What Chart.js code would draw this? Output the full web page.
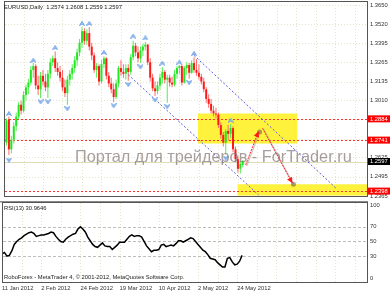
<!DOCTYPE html>
<html><head><meta charset="utf-8">
<script src="https://cdn.jsdelivr.net/npm/chart.js@4.4.1/dist/chart.umd.min.js"></script>
<style>
html,body{margin:0;padding:0;background:#fff;overflow:hidden}
#wrap{position:relative;width:390px;height:293px;background:#fff}
canvas{position:absolute;left:0}
</style></head><body>
<div id="wrap">
<canvas id="main" width="390" height="201" style="top:0;width:390px;height:201px"></canvas>
<canvas id="rsi" width="390" height="92" style="top:201px;width:390px;height:92px"></canvas>
</div>
<script>
// ---- data ----
const opens = [1.2809,1.2724,1.2881,1.2679,1.2744,1.2835,1.2900,1.2979,1.2939,1.3044,
1.3096,1.3128,1.3213,1.3239,1.3109,1.3083,1.3174,1.3135,1.3096,1.3187,
1.3265,1.3291,1.3226,1.3200,1.3161,1.3096,1.3057,1.3148,1.3187,1.3226,
1.3278,1.3331,1.3396,1.3474,1.3409,1.3461,1.3370,1.3311,1.3213,1.3239,
1.3135,1.3252,1.3291,1.3174,1.3122,1.3083,1.3031,1.3122,1.3226,1.3200,
1.3187,1.3226,1.3200,1.3298,1.3376,1.3331,1.3291,1.3344,1.3370,1.3383,
1.3265,1.3161,1.3089,1.3070,1.3109,1.3161,1.3200,1.3148,1.3161,1.3128,
1.3115,1.3187,1.3226,1.3239,1.3128,1.3226,1.3246,1.3194,1.3259,1.3213,
1.3194,1.3167,1.3135,1.3083,1.3018,1.2985,1.2939,1.2920,1.2913,1.2842,
1.2776,1.2724,1.2803,1.2783,1.2822,1.2679,1.2613,1.2548,1.2574];
const highs = [1.2835,1.2887,1.2900,1.2770,1.2861,1.2926,1.2998,1.3005,1.3070,1.3115,
1.3154,1.3239,1.3259,1.3252,1.3174,1.3200,1.3213,1.3187,1.3213,1.3291,
1.3311,1.3337,1.3265,1.3239,1.3213,1.3148,1.3174,1.3213,1.3252,1.3305,
1.3357,1.3422,1.3500,1.3494,1.3487,1.3500,1.3396,1.3331,1.3259,1.3252,
1.3278,1.3305,1.3298,1.3200,1.3161,1.3122,1.3148,1.3239,1.3278,1.3252,
1.3252,1.3252,1.3318,1.3409,1.3396,1.3370,1.3370,1.3389,1.3402,1.3389,
1.3291,1.3187,1.3135,1.3135,1.3187,1.3233,1.3213,1.3181,1.3181,1.3167,
1.3213,1.3239,1.3246,1.3252,1.3239,1.3265,1.3259,1.3278,1.3298,1.3285,
1.3252,1.3187,1.3161,1.3096,1.3050,1.3018,1.2972,1.2959,1.2926,1.2861,
1.2796,1.2816,1.2842,1.2848,1.2835,1.2698,1.2633,1.2600,1.2608];
const lows = [1.2692,1.2705,1.2640,1.2653,1.2718,1.2803,1.2881,1.2913,1.2926,1.3005,
1.3050,1.3109,1.3161,1.3083,1.3044,1.3024,1.3109,1.3070,1.3024,1.3154,
1.3239,1.3200,1.3174,1.3135,1.3070,1.3031,1.2979,1.3109,1.3148,1.3194,
1.3239,1.3305,1.3363,1.3383,1.3383,1.3344,1.3278,1.3194,1.3161,1.3109,
1.3122,1.3226,1.3148,1.3096,1.3057,1.2998,1.3018,1.3096,1.3174,1.3161,
1.3148,1.3141,1.3181,1.3278,1.3305,1.3265,1.3259,1.3305,1.3344,1.3246,
1.3135,1.3070,1.3037,1.3050,1.3083,1.3122,1.3122,1.2992,1.3102,1.3096,
1.3102,1.3154,1.3187,1.3109,1.3122,1.3181,1.3154,1.3187,1.3194,1.3174,
1.3148,1.3115,1.3063,1.2992,1.2959,1.2920,1.2900,1.2887,1.2822,1.2750,
1.2698,1.2646,1.2737,1.2757,1.2659,1.2594,1.2522,1.2516,1.2559];
const closes = [1.2724,1.2874,1.2679,1.2744,1.2835,1.2900,1.2979,1.2939,1.3044,1.3096,
1.3128,1.3213,1.3239,1.3109,1.3083,1.3174,1.3135,1.3096,1.3187,1.3265,
1.3291,1.3226,1.3200,1.3161,1.3096,1.3057,1.3148,1.3187,1.3226,1.3278,
1.3331,1.3396,1.3474,1.3409,1.3461,1.3370,1.3311,1.3213,1.3239,1.3135,
1.3252,1.3291,1.3174,1.3122,1.3083,1.3031,1.3122,1.3226,1.3200,1.3187,
1.3226,1.3200,1.3298,1.3376,1.3331,1.3291,1.3344,1.3370,1.3383,1.3265,
1.3161,1.3089,1.3070,1.3109,1.3161,1.3200,1.3148,1.3161,1.3128,1.3115,
1.3187,1.3226,1.3239,1.3128,1.3226,1.3246,1.3194,1.3259,1.3213,1.3194,
1.3167,1.3135,1.3083,1.3018,1.2985,1.2939,1.2920,1.2913,1.2842,1.2776,
1.2724,1.2803,1.2783,1.2822,1.2679,1.2613,1.2548,1.2581,1.2597];
const rsiValues = [33,35,30,31,37,46,50,53,55,58,60,62,63,61,57,58,59,59,60,61,
63,62,57,53,50,49,53,56,58,60,61,67,70,67,63,56,51,46,43,42,
45,48,44,43,43,39,42,45,49,49,49,53,57,59,57,58,58,56,50,44,
40,36,38,38,39,45,46,43,44,45,44,47,51,51,49,51,53,55,54,50,
46,42,38,36,32,27,26,25,21,18,15,15,27,28,22,18,19,23,30.96];
const priceTicks = [1.3650,1.3520,1.3395,1.3265,1.3135,1.3010,1.2880,1.2750,1.2625,1.2495,1.2365];
const hiddenPriceTicks = [1.2880,1.2750];
const rsiTicks = [0,30,50,70,100];
const rsiLevels = [30,50,70];
const dateTicks = [0,16,32,48,64,80,96];
const dateLabels = ['11 Jan 2012','2 Feb 2012','24 Feb 2012','19 Mar 2012','10 Apr 2012','2 May 2012','24 May 2012'];
const fractalUpX = [2,12,21,32,35,41,53,58,65,72,78,93];
const fractalUpY = [1.2920,1.3278,1.3363,1.3526,1.3526,1.3331,1.3441,1.3428,1.3259,1.3265,1.3324,1.2874];
const fractalDownX = [2,15,18,26,45,51,56,62,67,76,91];
const fractalDownY = [1.2607,1.2998,1.2998,1.2952,1.2972,1.3115,1.3233,1.3011,1.2966,1.3128,1.2620];
const upperChannel = [{x:78,y:1.3311},{x:136.7,y:1.2411}];
const lowerChannel = [{x:51,y:1.3181},{x:104.5,y:1.2372}];
const levelLines = [1.2884,1.2741,1.2398];
const bidPrice = 1.2597;
const zones = [{x0:79.6,x1:120.4,top:1.2920,bottom:1.2718},{x0:95.9,x1:149,top:1.2444,bottom:1.2368}];
const arrows = [{x0:99.2,y0:1.2574,x1:104.5,y1:1.2802},{x0:106.1,y0:1.2822,x1:118.4,y1:1.2450}];
const headerText = 'EURUSD,Daily  1.2574 1.2608 1.2559 1.2597';
const rsiText = 'RSI(13) 30.9646';
const copyrightText = 'RoboForex - MetaTrader 4, \u00A9 2001-2012, MetaQuotes Software Corp.';
const watermarkText = 'Портал для трейдеров - ForTrader.ru';

// ---- styling ----
const FONT = "'Liberation Sans', Arial, sans-serif";
const FS = 5.8;
Chart.defaults.font.family = FONT;
Chart.defaults.font.size = FS;
Chart.defaults.color = '#333';
const X_MIN = 0.4, X_MAX = 149, GRID_STEP = 8;
const BULL = '#22e622', BEAR = '#ff1a1a';
const WICK_BULL = '#55ee55', WICK_BEAR = '#ff6a6a';
const candleColor = (c) => closes[c.dataIndex] >= opens[c.dataIndex] ? BULL : BEAR;
const wickColor = (c) => closes[c.dataIndex] >= opens[c.dataIndex] ? WICK_BULL : WICK_BEAR;

function fractalImage(up) {
  const c = document.createElement('canvas'); c.width = 6; c.height = 5;
  const g = c.getContext('2d');
  g.beginPath();
  if (up) { g.moveTo(0.5,4.5); g.lineTo(3,0.5); g.lineTo(5.5,4.5); g.lineTo(3,3); }
  else { g.moveTo(0.5,0.5); g.lineTo(3,4.5); g.lineTo(5.5,0.5); g.lineTo(3,2); }
  g.closePath();
  g.fillStyle = '#b4d4fa'; g.fill();
  g.strokeStyle = '#6a9fe6'; g.lineWidth = 1; g.stroke();
  return c;
}
function hline(ctx, x0, x1, y) { ctx.beginPath(); ctx.moveTo(x0, y); ctx.lineTo(x1, y); ctx.stroke(); }
function vline(ctx, x, y0, y1) { ctx.beginPath(); ctx.moveTo(x, y0); ctx.lineTo(x, y1); ctx.stroke(); }

const mainDeco = {
  id: 'mainDeco',
  beforeDatasetsDraw(chart) {
    const {ctx, chartArea: a, scales: {x, y}} = chart;
    ctx.save();
    ctx.beginPath(); ctx.rect(a.left, a.top, a.right - a.left, a.bottom - a.top); ctx.clip();
    ctx.strokeStyle = '#e4e4c8'; ctx.lineWidth = 1; ctx.setLineDash([1, 2]);
    for (let b = 0; b <= X_MAX; b += GRID_STEP) vline(ctx, Math.round(x.getPixelForValue(b)) + 0.5, a.top, a.bottom);
    priceTicks.forEach(v => hline(ctx, a.left, a.right, Math.round(y.getPixelForValue(v)) + 0.5));
    ctx.setLineDash([]);
    ctx.fillStyle = '#fff23c';
    zones.forEach(z => {
      const x0 = x.getPixelForValue(z.x0), x1 = x.getPixelForValue(z.x1);
      const y0 = y.getPixelForValue(z.top), y1 = y.getPixelForValue(z.bottom);
      ctx.fillRect(x0, y0, x1 - x0, y1 - y0);
    });
    ctx.strokeStyle = '#deddb8';
    hline(ctx, a.left, a.right, Math.round(y.getPixelForValue(bidPrice)) + 0.5);
    ctx.strokeStyle = '#ff3030'; ctx.setLineDash([2, 2]);
    levelLines.forEach(v => hline(ctx, a.left, a.right, Math.round(y.getPixelForValue(v)) + 0.5));
    ctx.restore();
  },
  afterDatasetsDraw(chart) {
    const {ctx, chartArea: a, scales: {x, y}} = chart;
    ctx.save();
    ctx.beginPath(); ctx.rect(a.left, a.top, a.right - a.left, a.bottom - a.top); ctx.clip();
    arrows.forEach(r => {
      const x0 = x.getPixelForValue(r.x0), y0 = y.getPixelForValue(r.y0);
      const x1 = x.getPixelForValue(r.x1), y1 = y.getPixelForValue(r.y1);
      ctx.setLineDash([]);
      ctx.strokeStyle = 'rgba(150,140,130,0.45)'; ctx.lineWidth = 1.5;
      ctx.beginPath(); ctx.moveTo(x0 + 1, y0 + 1); ctx.lineTo(x1 + 1, y1 + 1); ctx.stroke();
      ctx.strokeStyle = '#ff2a2a'; ctx.lineWidth = 1; ctx.setLineDash([2, 1]);
      ctx.beginPath(); ctx.moveTo(x0, y0); ctx.lineTo(x1, y1); ctx.stroke();
      ctx.setLineDash([]);
      const ang = Math.atan2(y1 - y0, x1 - x0), L = 6, W = 2.8;
      const cs = Math.cos(ang), sn = Math.sin(ang);
      ctx.fillStyle = 'rgba(90,70,60,0.5)';
      ctx.beginPath(); ctx.arc(x1 + 1, y1 + 1, 2.5, 0, Math.PI * 2); ctx.fill();
      ctx.fillStyle = '#ff1a1a';
      ctx.beginPath(); ctx.moveTo(x1, y1);
      ctx.lineTo(x1 - L * cs + W * sn, y1 - L * sn - W * cs);
      ctx.lineTo(x1 - L * cs - W * sn, y1 - L * sn + W * cs);
      ctx.closePath(); ctx.fill();
    });
    // watermark
    ctx.font = '16px ' + FONT;
    const w = ctx.measureText(watermarkText).width;
    const size = 16 * 277 / w;
    ctx.font = size.toFixed(2) + 'px ' + FONT;
    ctx.fillStyle = 'rgba(125,112,112,0.68)';
    ctx.textBaseline = 'alphabetic'; ctx.textAlign = 'left';
    ctx.fillText(watermarkText, 75, 162);
    ctx.restore();
  },
  afterDraw(chart) {
    const {ctx, chartArea: a, scales: {y}} = chart;
    ctx.save();
    ctx.strokeStyle = '#555'; ctx.lineWidth = 1;
    ctx.strokeRect(a.left - 0.5, 1.5, a.right - a.left + 1, a.bottom - 1);
    ctx.font = FS + 'px ' + FONT; ctx.textBaseline = 'middle'; ctx.textAlign = 'left';
    ctx.fillStyle = '#222';
    ctx.fillText(headerText, 4, 7);
    const boxes = [{v: levelLines[0], bg: '#ff0000'}, {v: levelLines[1], bg: '#ff0000'}, {v: bidPrice, bg: '#000000'}, {v: levelLines[2], bg: '#ff0000'}];
    boxes.forEach(b => {
      const py = y.getPixelForValue(b.v);
      ctx.fillStyle = b.bg; ctx.fillRect(a.right + 1, py - 3.5, 390 - a.right - 1, 7);
      ctx.fillStyle = '#fff'; ctx.fillText(b.v.toFixed(4), a.right + 3, py + 0.3);
    });
    ctx.restore();
  }
};

new Chart(document.getElementById('main'), {
  type: 'bar',
  data: {
    datasets: [
      {type: 'line', data: fractalUpX.map((v, k) => ({x: v, y: fractalUpY[k]})), showLine: false,
       pointStyle: fractalImage(true), pointRadius: 3, order: 1},
      {type: 'line', data: fractalDownX.map((v, k) => ({x: v, y: fractalDownY[k]})), showLine: false,
       pointStyle: fractalImage(false), pointRadius: 3, order: 1},
      {type: 'line', data: upperChannel, borderColor: '#5a5ae6', borderWidth: 1, borderDash: [2, 2], pointRadius: 0, order: 2},
      {type: 'line', data: lowerChannel, borderColor: '#5a5ae6', borderWidth: 1, borderDash: [2, 2], pointRadius: 0, order: 2},
      {data: opens.map((o, i) => ({x: i, y: [opens[i], closes[i]]})), backgroundColor: candleColor,
       barThickness: 2, minBarLength: 1, grouped: false, borderWidth: 0, inflateAmount: 0, order: 3},
      {data: opens.map((o, i) => ({x: i, y: [lows[i], highs[i]]})), backgroundColor: wickColor,
       barThickness: 1, grouped: false, borderWidth: 0, inflateAmount: 0, order: 4}
    ]
  },
  options: {
    responsive: false, animation: false, devicePixelRatio: 1,
    layout: {padding: {left: 3, top: 3, right: 0, bottom: 1}},
    plugins: {legend: {display: false}, tooltip: {enabled: false}},
    scales: {
      x: {type: 'linear', min: X_MIN, max: X_MAX, offset: false, display: false},
      y: {type: 'linear', position: 'right', min: 1.2365, max: 1.3650,
          grid: {display: false, drawTicks: false}, border: {display: false},
          afterFit(s) { s.width = 23; s.paddingTop = 0; s.paddingBottom = 0; },
          afterBuildTicks(s) { s.ticks = priceTicks.map(v => ({value: v})); },
          ticks: {padding: 3, color: '#333', font: {size: FS},
                  callback: (v) => hiddenPriceTicks.some(h => Math.abs(h - v) < 1e-6) ? '' : Number(v).toFixed(4)}}
    }
  },
  plugins: [mainDeco]
});

const rsiDeco = {
  id: 'rsiDeco',
  beforeDatasetsDraw(chart) {
    const {ctx, chartArea: a, scales: {x, y}} = chart;
    ctx.save();
    ctx.beginPath(); ctx.rect(a.left, a.top, a.right - a.left, a.bottom - a.top); ctx.clip();
    ctx.strokeStyle = '#e4e4c8'; ctx.lineWidth = 1; ctx.setLineDash([1, 2]);
    for (let b = 0; b <= X_MAX; b += GRID_STEP) vline(ctx, Math.round(x.getPixelForValue(b)) + 0.5, a.top, a.bottom);
    ctx.strokeStyle = '#bdbdbd'; ctx.setLineDash([3, 2]);
    rsiLevels.forEach(v => hline(ctx, a.left, a.right, Math.round(y.getPixelForValue(v)) + 0.5));
    ctx.restore();
  },
  afterDraw(chart) {
    const {ctx, chartArea: a} = chart;
    ctx.save();
    ctx.fillStyle = '#8a8a8a'; ctx.fillRect(0, 0, a.right + 1, 1.5);
    ctx.strokeStyle = '#555'; ctx.lineWidth = 1;
    ctx.strokeRect(a.left - 0.5, a.top - 0.5, a.right - a.left + 1, a.bottom - a.top + 1);
    ctx.font = FS + 'px ' + FONT; ctx.textBaseline = 'middle'; ctx.textAlign = 'left';
    ctx.fillStyle = '#222';
    ctx.fillText(rsiText, 4, a.top + 5.5);
    ctx.fillText(copyrightText, 4, a.bottom - 4.5);
    ctx.restore();
  }
};

new Chart(document.getElementById('rsi'), {
  type: 'line',
  data: {datasets: [{data: rsiValues.map((v, i) => ({x: i, y: v})), borderColor: '#000', borderWidth: 1.5,
                     pointRadius: 0, tension: 0, fill: false}]},
  options: {
    responsive: false, animation: false, devicePixelRatio: 1,
    layout: {padding: {left: 3, top: 2, right: 0, bottom: 0}},
    plugins: {legend: {display: false}, tooltip: {enabled: false}},
    scales: {
      x: {type: 'linear', min: X_MIN, max: X_MAX, offset: false, position: 'bottom',
          grid: {display: false, drawTicks: false}, border: {display: false},
          afterFit(s) { s.height = 11; s.paddingLeft = 0; s.paddingRight = 0; },
          afterBuildTicks(s) { s.ticks = dateTicks.map(v => ({value: v})); },
          ticks: {autoSkip: false, maxRotation: 0, minRotation: 0, align: 'start', padding: 3, color: '#333',
                  font: {size: FS}, callback: (v, i) => dateLabels[i]}},
      y: {type: 'linear', position: 'right', min: -5.5, max: 102.7,
          grid: {display: false, drawTicks: false}, border: {display: false},
          afterFit(s) { s.width = 23; s.paddingTop = 0; s.paddingBottom = 0; },
          afterBuildTicks(s) { s.ticks = rsiTicks.map(v => ({value: v})); },
          ticks: {padding: 3, color: '#333', font: {size: FS}}}
    }
  },
  plugins: [rsiDeco]
});
</script>
</body></html>
